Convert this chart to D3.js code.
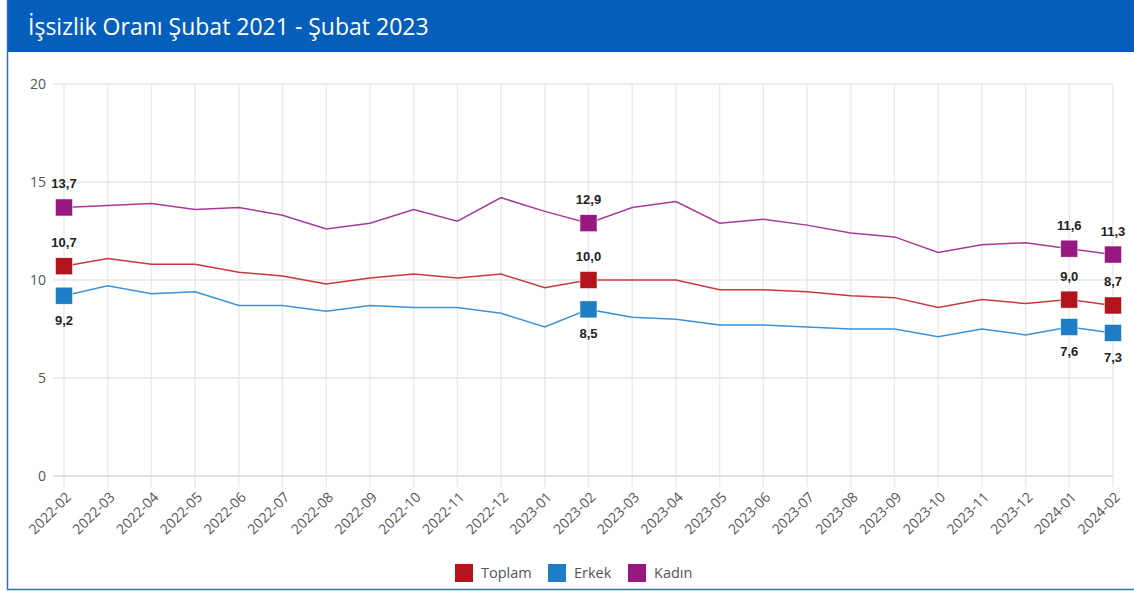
<!DOCTYPE html>
<html>
<head>
<meta charset="utf-8">
<script src="https://cdn.jsdelivr.net/npm/d3@7"></script>
<style>
  body { margin: 0; background: #fff; }
  svg { display: block; font-family: "Open Sans", sans-serif; }
</style>
</head>
<body>
<div id="chart"></div>
<script>
'use strict';

var months = ['2022-02','2022-03','2022-04','2022-05','2022-06','2022-07','2022-08',
  '2022-09','2022-10','2022-11','2022-12','2023-01','2023-02','2023-03','2023-04',
  '2023-05','2023-06','2023-07','2023-08','2023-09','2023-10','2023-11','2023-12',
  '2024-01','2024-02'];

var toplam = [10.7,11.1,10.8,10.8,10.4,10.2,9.8,10.1,10.3,10.1,10.3,9.6,10.0,
  10.0,10.0,9.5,9.5,9.4,9.2,9.1,8.6,9.0,8.8,9.0,8.7];
var erkek = [9.2,9.7,9.3,9.4,8.7,8.7,8.4,8.7,8.6,8.6,8.3,7.6,8.5,
  8.1,8.0,7.7,7.7,7.6,7.5,7.5,7.1,7.5,7.2,7.6,7.3];
var kadin = [13.7,13.8,13.9,13.6,13.7,13.3,12.6,12.9,13.6,13.0,14.2,13.5,12.9,
  13.7,14.0,12.9,13.1,12.8,12.4,12.2,11.4,11.8,11.9,11.6,11.3];

var yTicks = [0, 5, 10, 15, 20];
var markedIdx = [0, 12, 23, 24];

var series = [
  { name: 'Toplam', values: toplam, color: '#b3141b', line: '#c8383e', labelPos: 'above' },
  { name: 'Erkek', values: erkek, color: '#1f7dc6', line: '#3d93d6', labelPos: 'below' },
  { name: 'Kadın', values: kadin, color: '#97187f', line: '#a8399a', labelPos: 'above' }
];

var width = 1134, height = 591;
var margin = { top: 84, right: 21, bottom: 115, left: 64 };

var svg = d3.select('#chart').append('svg')
  .attr('width', width)
  .attr('height', height);

// header band
svg.append('rect')
  .attr('x', 7).attr('y', 0)
  .attr('width', width - 7).attr('height', 52)
  .attr('fill', '#065ebb');

svg.append('text')
  .attr('x', 28).attr('y', 35)
  .attr('fill', '#fff')
  .style('font-size', '23px')
  .text('İşsizlik Oranı Şubat 2021 - Şubat 2023');

// frame lines
svg.append('line')
  .attr('x1', 7.5).attr('y1', 0).attr('x2', 7.5).attr('y2', 590)
  .attr('stroke', '#2f6fc4').attr('stroke-width', 1.5);
svg.append('line')
  .attr('x1', 7).attr('y1', 589.5).attr('x2', width).attr('y2', 589.5)
  .attr('stroke', '#2f6fc4').attr('stroke-width', 1.5);

var x = d3.scalePoint()
  .domain(months)
  .range([margin.left, width - margin.right]);

var y = d3.scaleLinear()
  .domain([0, 20])
  .range([height - margin.bottom, margin.top]);

var g = svg.append('g');

// vertical grid
g.selectAll('.vgrid')
  .data(months)
  .enter().append('line')
  .attr('class', 'vgrid')
  .attr('x1', function (d) { return x(d); })
  .attr('x2', function (d) { return x(d); })
  .attr('y1', y(20))
  .attr('y2', y(0) + 11)
  .attr('stroke', '#ebebeb')
  .attr('stroke-width', 1.5);

// horizontal grid
g.selectAll('.hgrid')
  .data(yTicks)
  .enter().append('line')
  .attr('class', 'hgrid')
  .attr('x1', margin.left - 11)
  .attr('x2', width - margin.right)
  .attr('y1', function (d) { return y(d); })
  .attr('y2', function (d) { return y(d); })
  .attr('stroke', function (d) { return d === 0 ? '#d9d9d9' : '#e6e6e6'; })
  .attr('stroke-width', 1.5);

// y axis labels
g.selectAll('.ylab')
  .data(yTicks)
  .enter().append('text')
  .attr('class', 'ylab')
  .attr('x', 46)
  .attr('y', function (d) { return y(d) + 5; })
  .attr('text-anchor', 'end')
  .attr('fill', '#555')
  .style('font-size', '14px')
  .text(function (d) { return d; });

// x axis labels
g.selectAll('.xlab')
  .data(months)
  .enter().append('text')
  .attr('class', 'xlab')
  .attr('transform', function (d) {
    return 'translate(' + (x(d) + 8) + ',' + (y(0) + 22) + ') rotate(-45)';
  })
  .attr('text-anchor', 'end')
  .attr('fill', '#555')
  .style('font-size', '14px')
  .text(function (d) { return d; });

var line = d3.line()
  .x(function (d, i) { return x(months[i]); })
  .y(function (d) { return y(d); });

series.forEach(function (s) {
  g.append('path')
    .datum(s.values)
    .attr('fill', 'none')
    .attr('stroke', s.line)
    .attr('stroke-width', 1.5)
    .attr('d', line);
});

var fmt = function (v) { return v.toFixed(1).replace('.', ','); };

series.forEach(function (s) {
  var pts = markedIdx.map(function (i) { return { i: i, v: s.values[i] }; });
  g.selectAll(null)
    .data(pts)
    .enter().append('rect')
    .attr('x', function (d) { return x(months[d.i]) - 8.5; })
    .attr('y', function (d) { return y(d.v) - 8.5; })
    .attr('width', 17)
    .attr('height', 17)
    .attr('fill', s.color)
    .attr('stroke', '#fff')
    .attr('stroke-width', 0.5);

  g.selectAll(null)
    .data(pts)
    .enter().append('text')
    .attr('x', function (d) { return x(months[d.i]); })
    .attr('y', function (d) {
      return s.labelPos === 'above' ? y(d.v) - 19 : y(d.v) + 29;
    })
    .attr('text-anchor', 'middle')
    .attr('fill', '#222')
    .style('font-family', '"Liberation Sans", Arial, sans-serif')
    .style('font-size', '13px')
    .style('font-weight', 'bold')
    .text(function (d) { return fmt(d.v); });
});

// legend
var legendX = [455, 548, 628];
var legend = svg.selectAll('.legend')
  .data(series)
  .enter().append('g')
  .attr('class', 'legend')
  .attr('transform', function (d, i) { return 'translate(' + legendX[i] + ',564)'; });

legend.append('rect')
  .attr('width', 18).attr('height', 18)
  .attr('fill', function (d) { return d.color; });

legend.append('text')
  .attr('x', 26).attr('y', 14)
  .attr('fill', '#555')
  .style('font-size', '14.5px')
  .text(function (d) { return d.name; });
</script>
</body>
</html>
